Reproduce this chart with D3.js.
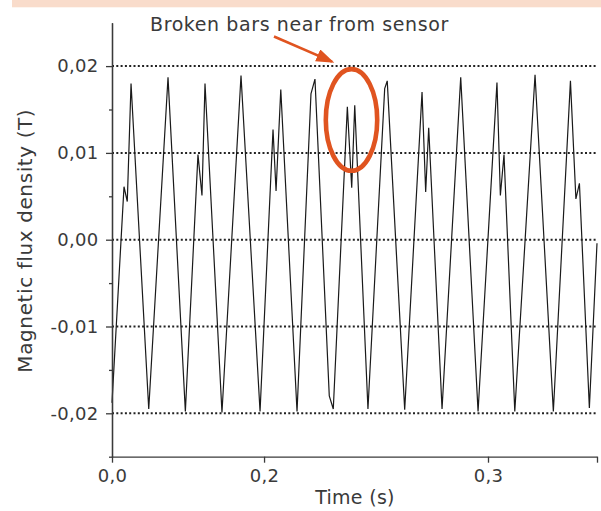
<!DOCTYPE html>
<html>
<head>
<meta charset="utf-8">
<script src="https://cdn.jsdelivr.net/npm/d3@7"></script>
<style>
  body { margin: 0; background: #fff; }
  svg text { font-family: "DejaVu Sans", sans-serif; fill: #3a3a3a; }
</style>
</head>
<body>
<div id="chart"></div>
<script>
// waveform: time (s) and flux density (T)
const times = [0, 0.0099, 0.0126, 0.0157, 0.0303, 0.0462, 0.0605, 0.0709, 0.0742, 0.0767,
  0.0907, 0.1064, 0.1221, 0.1328, 0.1353, 0.1392, 0.1526, 0.1641, 0.1674, 0.1792,
  0.1825, 0.1941, 0.1977, 0.2002, 0.2111, 0.2249, 0.2270, 0.2414, 0.2557, 0.2587,
  0.2612, 0.2722, 0.2876, 0.3019, 0.3175, 0.3203, 0.3233, 0.3322, 0.3489, 0.3640,
  0.3781, 0.3826, 0.3855, 0.3937, 0.4];
const flux = [-0.0188, 0.0061, 0.0044, 0.0180, -0.0195, 0.0187, -0.0198, 0.0098, 0.0051, 0.0180,
  -0.0199, 0.0189, -0.0198, 0.0127, 0.0056, 0.0173, -0.0198, 0.0168, 0.0185, -0.0180,
  -0.0195, 0.0153, 0.0060, 0.0155, -0.0195, 0.0174, 0.0183, -0.0196, 0.0170, 0.0055,
  0.0129, -0.0195, 0.0187, -0.0198, 0.0181, 0.0051, 0.0098, -0.0198, 0.0190, -0.0198,
  0.0183, 0.0047, 0.0065, -0.0194, -0.0004];

const yTicks = [-0.02, -0.01, 0, 0.01, 0.02];
const yTickLabels = ["-0,02", "-0,01", "0,00", "0,01", "0,02"];
const yMinorTicks = [-0.025, -0.015, -0.005, 0.005, 0.015];
// the source figure's time ticks are not evenly spaced, keep them where they sit
const xTicks = [0, 0.1254, 0.3101, 0.4];
const xTickLabels = ["0,0", "0,2", "0,3", ""];

const annotation = "Broken bars near from sensor";
const highlightTime = 0.1977, highlightFlux = 0.0138;

const W = 601, H = 511;
const margin = {top: 22.7, right: 4, bottom: 54.3, left: 112};

const svg = d3.select("#chart").append("svg")
    .attr("width", W)
    .attr("height", H);

// peach band at the top
svg.append("rect")
    .attr("x", 12).attr("y", 0)
    .attr("width", W - 12).attr("height", 7.3)
    .attr("fill", "#f9dccb");

const x = d3.scaleLinear()
    .domain([0, 0.4])
    .range([margin.left, W - margin.right]);
const y = d3.scaleLinear()
    .domain([-0.025, 0.025])
    .range([H - margin.bottom, margin.top]);

// dotted grid
svg.append("g")
  .selectAll("line")
  .data(yTicks)
  .join("line")
    .attr("x1", x(0)).attr("x2", x(0.4))
    .attr("y1", d => y(d)).attr("y2", d => y(d))
    .attr("stroke", "#222")
    .attr("stroke-width", 2)
    .attr("stroke-dasharray", "2,2.3");

// signal
svg.append("path")
    .datum(times.map((t, i) => [t, flux[i]]))
    .attr("fill", "none")
    .attr("stroke", "#1a1a1a")
    .attr("stroke-width", 1.2)
    .attr("d", d3.line().x(d => x(d[0])).y(d => y(d[1])));

// axes
svg.append("g")
    .attr("transform", `translate(${margin.left},0)`)
    .call(d3.axisLeft(y).tickValues(yTicks).tickSize(6).tickSizeOuter(0).tickPadding(7.5)
      .tickFormat((d, i) => yTickLabels[i]));
svg.append("g")
    .attr("transform", `translate(${margin.left},0)`)
    .call(d3.axisLeft(y).tickValues(yMinorTicks).tickSize(3).tickSizeOuter(0).tickFormat(""));

svg.append("g")
    .attr("transform", `translate(0,${H - margin.bottom})`)
    .call(d3.axisBottom(x).tickValues(xTicks).tickSize(6).tickSizeOuter(0).tickPadding(7)
      .tickFormat((d, i) => xTickLabels[i]));

svg.selectAll(".domain, .tick line")
    .attr("stroke", "#3a3a3a")
    .attr("stroke-width", 1.3);
svg.selectAll(".tick text")
    .style("font-size", "18px")
    .style("letter-spacing", "0.3px")
    .attr("fill", "#3a3a3a");

svg.append("text")
    .attr("x", 355).attr("y", 504)
    .attr("text-anchor", "middle")
    .style("font-size", "19px")
    .style("letter-spacing", "0.3px")
    .text("Time (s)");

svg.append("text")
    .attr("transform", `translate(31.5,${y(0) + 1}) rotate(-90)`)
    .attr("text-anchor", "middle")
    .style("font-size", "20px")
    .style("letter-spacing", "0.6px")
    .text("Magnetic flux density (T)");

// annotation
const orange = "#e05420";
svg.append("defs").append("marker")
    .attr("id", "head")
    .attr("viewBox", "0 0 14 10")
    .attr("refX", 12).attr("refY", 5)
    .attr("markerWidth", 7).attr("markerHeight", 5)
    .attr("markerUnits", "strokeWidth")
    .attr("orient", "auto")
  .append("path")
    .attr("d", "M0,0L14,5L0,10Z")
    .attr("fill", orange);

svg.append("text")
    .attr("x", 150).attr("y", 30.5)
    .style("font-size", "19px")
    .style("letter-spacing", "0.6px")
    .text(annotation);

svg.append("line")
    .attr("x1", 274).attr("y1", 36.5)
    .attr("x2", 332).attr("y2", 61.6)
    .attr("stroke", orange)
    .attr("stroke-width", 2.6)
    .attr("marker-end", "url(#head)");

svg.append("ellipse")
    .attr("cx", x(highlightTime) - 0.2)
    .attr("cy", y(highlightFlux))
    .attr("rx", 25.7).attr("ry", 50.8)
    .attr("fill", "none")
    .attr("stroke", orange)
    .attr("stroke-width", 4.6);
</script>
</body>
</html>
